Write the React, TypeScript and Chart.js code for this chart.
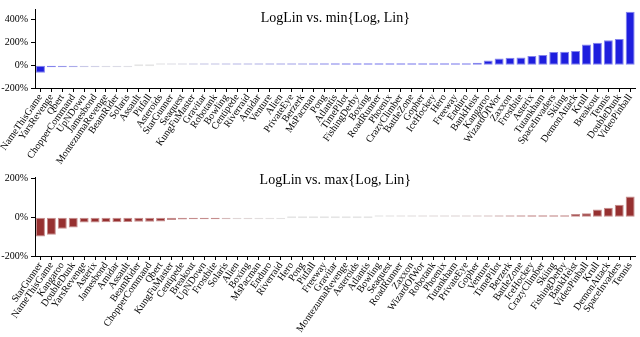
import React, { useEffect, useRef } from "react";
import { Chart, registerables } from "chart.js";
Chart.register(...registerables);

const topGames = [
  "NameThisGame", "YarsRevenge", "Qbert", "ChopperCommand", "UpNDown", "Jamesbond", "MontezumaRevenge",
  "BeamRider", "Solaris", "Assault", "Pitfall", "Asteroids", "StarGunner", "Seaquest", "KungFuMaster",
  "Gravitar", "Robotank", "Bowling", "Centipede", "Riverraid", "Amidar", "Venture", "Alien", "PrivateEye",
  "Berzerk", "MsPacman", "Pong", "Atlantis", "TimePilot", "FishingDerby", "Boxing", "RoadRunner", "Phoenix",
  "CrazyClimber", "BattleZone", "Gopher", "IceHockey", "Hero", "Freeway", "Enduro", "BankHeist", "Kangaroo",
  "WizardOfWor", "Zaxxon", "Frostbite", "Asterix", "Tutankham", "SpaceInvaders", "Skiing", "DemonAttack",
  "Krull", "Breakout", "Tennis", "DoubleDunk", "VideoPinball",
];
const topValues = [
  -66, -13, -8, -6, -3, -2, -1, -1, -0.5, 0, 0, 0.2, 0.5, 1, 2,
  3, 3, 3.5, 4, 4, 4.5, 5, 5.5, 6, 6, 7, 8, 9, 9.5, 10,
  11, 12, 12, 13, 14, 14, 15, 15, 16, 16, 22, 41, 60, 67, 68,
  82, 90, 117, 120, 125, 182, 199, 220, 231, 471,
];

const bottomGames = [
  "StarGunner", "NameThisGame", "Kangaroo", "DoubleDunk", "YarsRevenge", "Asterix", "Jamesbond", "Amidar",
  "Assault", "BeamRider", "ChopperCommand", "Qbert", "KungFuMaster", "Centipede", "Breakout", "UpNDown",
  "Frostbite", "Solaris", "Alien", "Boxing", "MsPacman", "Enduro", "Riverraid", "Hero", "Pong", "Pitfall",
  "Freeway", "Gravitar", "MontezumaRevenge", "Asteroids", "Atlantis", "Bowling", "Seaquest", "RoadRunner",
  "Zaxxon", "WizardOfWor", "Robotank", "Phoenix", "Tutankham", "PrivateEye", "Gopher", "Venture", "TimePilot",
  "Berzerk", "BattleZone", "IceHockey", "CrazyClimber", "Skiing", "FishingDerby", "BankHeist", "VideoPinball",
  "Krull", "DemonAttack", "SpaceInvaders", "Tennis",
];
const bottomValues = [
  -99, -90, -59, -53, -28, -27, -26, -26, -25, -24, -23, -22, -15, -12, -11, -10,
  -8, -3, -1, -1, -0.5, -0.3, -0.2, 0, 0, 0, 0, 0, 0, 0, 0, 0.1, 0.2, 0.3,
  0.4, 0.5, 0.6, 0.8, 1, 1.2, 1.5, 2, 3, 4, 5, 7, 8, 8, 10, 17, 20,
  40, 49, 64, 107,
];

const topTicks = [-200, 0, 200, 400];
const bottomTicks = [-200, 0, 200];

const GREY = [208, 208, 208];
const BLUE = [30, 30, 222];
const RED = [150, 48, 48];

function mix(a: number[], b: number[], t: number) {
  return a.map((v, i) => Math.round(v + (b[i] - v) * t));
}
function rgb(c: number[]) {
  return `rgb(${c[0]},${c[1]},${c[2]})`;
}

function makeChart(
  canvas: HTMLCanvasElement,
  labels: string[],
  values: number[],
  ticks: number[],
  min: number,
  max: number,
  full: number[],
  norm: number,
  title: string,
  titleY: number,
  padTop: number,
  xHeight: number
) {
  const base = values.map((v) => mix(GREY, full, Math.min(1, Math.abs(v) / norm)));
  const fills = base.map(rgb);
  const edges = base.map((c) => rgb(mix([255, 255, 255], c, 0.55)));
  const titlePlugin = {
    id: "inTitle",
    afterDraw(chart: any) {
      const { ctx, chartArea } = chart;
      ctx.save();
      ctx.font = "14px 'Liberation Serif'";
      ctx.fillStyle = "#000";
      ctx.textAlign = "center";
      ctx.textBaseline = "middle";
      ctx.fillText(title, (chartArea.left + chartArea.right) / 2, titleY);
      ctx.restore();
    },
  };
  return new Chart(canvas, {
    type: "bar",
    data: {
      labels,
      datasets: [
        {
          data: values,
          backgroundColor: fills,
          borderColor: edges,
          borderWidth: 1,
          borderSkipped: false,
          minBarLength: 2,
          barPercentage: 0.82,
          categoryPercentage: 1,
        },
      ],
    },
    options: {
      animation: false,
      responsive: false,
      maintainAspectRatio: false,
      layout: { padding: { top: padTop, right: 0, left: 0, bottom: 0 } },
      plugins: { legend: { display: false }, tooltip: { enabled: false }, title: { display: false } },
      scales: {
        x: {
          type: "category",
          offset: true,
          grid: { offset: false, drawOnChartArea: false, tickLength: 4, color: "#000" },
          border: { display: true, color: "#000", width: 1 },
          ticks: {
            autoSkip: false,
            maxRotation: 55,
            minRotation: 55,
            padding: 0,
            color: "#000",
            font: { family: "'Liberation Serif'", size: 10 },
          },
          afterFit(scale: any) {
            scale.height = xHeight;
          },
        },
        y: {
          min,
          max,
          grid: { drawOnChartArea: false, tickLength: 4, color: "#000" },
          border: { display: true, color: "#000", width: 1 },
          ticks: {
            color: "#000",
            padding: 3,
            font: { family: "'Liberation Serif'", size: 10 },
            callback: (v: any) => `${v}%`,
          },
          afterBuildTicks(axis: any) {
            axis.ticks = ticks.map((v) => ({ value: v }));
          },
          afterFit(scale: any) {
            scale.width = 35;
          },
        },
      },
    },
    plugins: [titlePlugin],
  } as any);
}

export default function App() {
  const topRef = useRef<HTMLCanvasElement>(null);
  const botRef = useRef<HTMLCanvasElement>(null);
  useEffect(() => {
    document.body.style.margin = "0";
    const c1 = makeChart(topRef.current!, topGames, topValues, topTicks, -200, 495, BLUE, 10,
      "LogLin vs. min{Log, Lin}", 18, 2, 80);
    const c2 = makeChart(botRef.current!, bottomGames, bottomValues, bottomTicks, -200, 207, RED, 6,
      "LogLin vs. max{Log, Lin}", 12, 5, 81);
    return () => {
      c1.destroy();
      c2.destroy();
    };
  }, []);
  return (
    <div style={{ width: 640, height: 337, position: "relative", background: "#fff" }}>
      <canvas ref={topRef} width={640} height={168} style={{ position: "absolute", left: 0, top: 0, display: "block" }} />
      <canvas ref={botRef} width={640} height={169} style={{ position: "absolute", left: 0, top: 168, display: "block" }} />
    </div>
  );
}
